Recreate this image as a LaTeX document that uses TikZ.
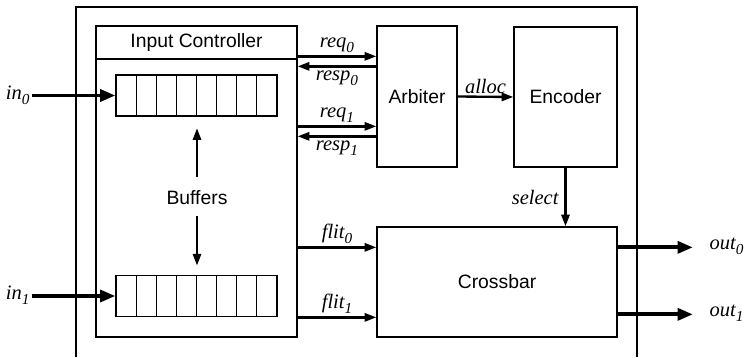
\documentclass[tikz,border=0pt]{standalone}
\usepackage{fontspec}
\setmainfont{Liberation Sans}
\newfontfamily\sigfont{Liberation Serif}
\usetikzlibrary{arrows.meta, positioning, calc}
\newcommand{\sig}[2]{{\sigfont\itshape #1\raisebox{-0.55ex}{\fontsize{13}{15}\selectfont #2}}}

\begin{document}
\begin{tikzpicture}[
  x=0.03cm, y=-0.03cm,
  block/.style={draw, line width=1.1pt, inner sep=0pt, font=\fontsize{16.5}{19}\selectfont},
  cell/.style={draw, line width=0.9pt, minimum width=0.604cm, minimum height=1.23cm, inner sep=0pt},
  lbl/.style={font=\fontsize{17.5}{20}\selectfont\sigfont\itshape, inner sep=2pt},
  sig/.style={line width=2pt, -{Triangle[length=10pt, width=7pt]}},
  bus/.style={line width=3.2pt, -{Triangle[length=13pt, width=10pt]}},
]
  \useasboundingbox (0,0) rectangle (745,357);
  % router frame
  \draw[line width=1.1pt] (76,357) |- (637,7) -- (637,357);

  % input controller
  \node[block, minimum width=6.03cm, minimum height=9.33cm] (ic) at (196.5,181.5) {};
  \node[block, anchor=north, minimum width=6.03cm, minimum height=0.99cm] (ichead) at (ic.north) {Input Controller};
  \foreach \i in {1,...,8}{
    \node[cell] (bufA\i) at ({116+(\i-0.5)*20.125}, 95.5) {};
    \node[cell] (bufB\i) at ({116+(\i-0.5)*20.125}, 296) {};
  }
  \node[block, draw=none] (buflbl) at (197,198) {Buffers};
  \draw[sig, shorten <=11pt, shorten >=10pt] (buflbl.north) -- (buflbl.north |- bufA4.south);
  \draw[sig, shorten <=9pt, shorten >=8pt] (buflbl.south) -- (buflbl.south |- bufB4.north);

  % arbiter, encoder, crossbar
  \node[block, minimum width=2.4cm, minimum height=4.23cm] (arb) at (417,96.5) {Arbiter};
  \node[block, minimum width=3.09cm, minimum height=4.2cm] (enc) at (565.5,97) {Encoder};
  \node[block, minimum width=7.2cm, minimum height=3.3cm] (xbar) at (497,282) {Crossbar};

  % inputs
  \node[lbl, anchor=east] (in0) at (32,95) {\sig{in}{0}};
  \node[lbl, anchor=east] (in1) at (32,295) {\sig{in}{1}};
  \draw[bus] (bufA1.west -| in0.east) -- (bufA1.west);
  \draw[bus] (bufB1.west -| in1.east) -- (bufB1.west);

  % request / response
  \coordinate (rq0) at ($(arb.north west)+(0,31)$);
  \coordinate (rs0) at ($(arb.north west)+(0,41)$);
  \coordinate (rq1) at ($(arb.north west)+(0,101)$);
  \coordinate (rs1) at ($(arb.north west)+(0,111)$);
  \draw[sig] (rq0 -| ic.east) -- node[lbl, above] {\sig{req}{0}} (rq0);
  \draw[sig] (rs0) -- node[lbl, below, inner sep=3pt] {\sig{resp}{0}} (rs0 -| ic.east);
  \draw[sig] (rq1 -| ic.east) -- node[lbl, above] {\sig{req}{1}} (rq1);
  \draw[sig] (rs1) -- node[lbl, below, inner sep=3pt] {\sig{resp}{1}} (rs1 -| ic.east);

  \draw[sig] (arb.east) -- node[lbl, above] {alloc} (enc.west);
  \draw[sig] (enc.south) -- node[lbl, left, inner sep=5pt] {select} (enc.south |- xbar.north);

  % flits
  \coordinate (f0) at ($(xbar.north west)+(0,21)$);
  \coordinate (f1) at ($(xbar.north west)+(0,91)$);
  \draw[sig] (f0 -| ic.east) -- node[lbl, above] {\sig{flit}{0}} (f0);
  \draw[sig] (f1 -| ic.east) -- node[lbl, above] {\sig{flit}{1}} (f1);

  % outputs
  \coordinate (o0) at ($(xbar.north east)+(0,21)$);
  \coordinate (o1) at ($(xbar.north east)+(0,88)$);
  \node[lbl, anchor=west] (out0) at (707,246) {\sig{out}{0}};
  \node[lbl, anchor=west] (out1) at (707,313) {\sig{out}{1}};
  \draw[bus, shorten >=12pt] (o0) -- (o0 -| out0.west);
  \draw[bus, shorten >=12pt] (o1) -- (o1 -| out1.west);
\end{tikzpicture}
\end{document}
